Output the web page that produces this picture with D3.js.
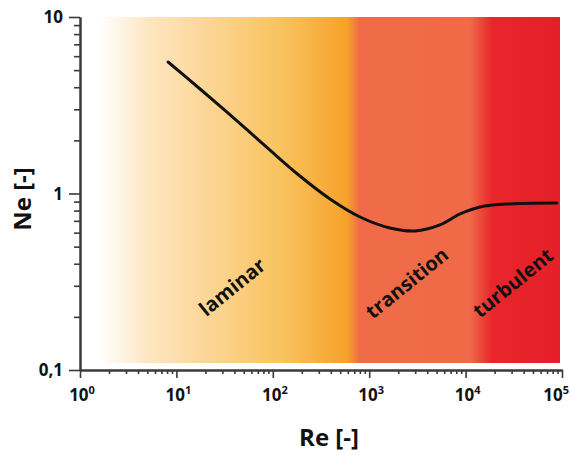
<!DOCTYPE html>
<html>
<head>
<meta charset="utf-8">
<script src="https://cdn.jsdelivr.net/npm/d3@7"></script>
<style>
  body { margin: 0; background: #fff; }
  svg { display: block; font-family: "Open Sans", "DejaVu Sans", sans-serif; }
</style>
</head>
<body>
<svg id="chart" width="570" height="455"></svg>
<script>
// curve: Reynolds number vs Newton (power) number
var reValues = [8.2, 17.6, 40.5, 93.5, 191, 392, 803, 1640, 2990, 5420, 8750, 14100, 28900, 88700];
var neValues = [5.56, 3.91, 2.64, 1.76, 1.256, 0.931, 0.736, 0.638, 0.614, 0.664, 0.766, 0.839, 0.873, 0.883];

// flow regimes (label position in data units)
var regimeNames = ["laminar", "transition", "turbulent"];
var regimeRe = [38, 2470, 31000];
var regimeNe = [0.295, 0.311, 0.311];

// background gradient stops along Re
var bandRe = [1.6, 5.3, 20, 120, 588, 800, 11100, 18800, 100000];
var bandColor = ["#ffffff", "#fde6bf", "#fcd698", "#f9c35f", "#f6a22a", "#f06b47", "#f06a48", "#e8262b", "#e51f28"];

var xTicks = [1, 10, 100, 1000, 10000, 100000];
var xExp = ["0", "1", "2", "3", "4", "5"];
var yTicks = [0.1, 1, 10];
var yTickLabels = ["0,1", "1", "10"];

var svg = d3.select("#chart");

var x = d3.scaleLog().domain([1, 1e5]).range([80, 562]);
var y = d3.scaleLog().domain([0.1, 10]).range([370, 17]);

// gradient background
var grad = svg.append("defs").append("linearGradient")
  .attr("id", "regimes")
  .attr("gradientUnits", "userSpaceOnUse")
  .attr("x1", x(bandRe[0])).attr("x2", x(bandRe[bandRe.length - 1]))
  .attr("y1", 0).attr("y2", 0);

var x0 = x(bandRe[0]), x1 = x(bandRe[bandRe.length - 1]);
grad.selectAll("stop")
  .data(bandRe)
  .enter().append("stop")
  .attr("offset", function (d) { return (x(d) - x0) / (x1 - x0); })
  .attr("stop-color", function (d, i) { return bandColor[i]; });

svg.append("rect")
  .attr("x", 82)
  .attr("y", y(10))
  .attr("width", 560 - 82)
  .attr("height", 363 - y(10))
  .attr("fill", "url(#regimes)");

// minor ticks
function minors(lo, hi) {
  var out = [];
  for (var p = lo; p < hi; p *= 10) {
    for (var k = 2; k <= 9; k++) out.push(p * k);
  }
  return out;
}

var axisColor = "#3a3a3a";

// x axis
var gx = svg.append("g").attr("transform", "translate(0," + y(0.1) + ")");
gx.call(d3.axisBottom(x).tickValues(minors(1, 1e5)).tickSize(4).tickFormat("").tickSizeOuter(0));
gx.call(function (g) {
  g.append("g").call(d3.axisBottom(x).tickValues(xTicks).tickSize(8).tickFormat("").tickSizeOuter(0));
});

// y axis
var gy = svg.append("g").attr("transform", "translate(" + x(1) + ",0)");
gy.call(d3.axisLeft(y).tickValues(minors(0.1, 10)).tickSize(6).tickFormat("").tickSizeOuter(0));
gy.call(function (g) {
  g.append("g").call(d3.axisLeft(y).tickValues(yTicks).tickSize(11).tickFormat("").tickSizeOuter(0));
});

svg.selectAll(".domain, .tick line")
  .attr("stroke", axisColor)
  .attr("stroke-width", 2);
svg.selectAll(".tick line").attr("stroke-width", 1.6);

// x tick labels with superscripts (last one pulled in so it stays on the page)
var xl = svg.append("g").selectAll("text")
  .data(xTicks)
  .enter().append("text")
  .attr("x", function (d, i) { return i === xTicks.length - 1 ? 569 : x(d) + 2; })
  .attr("y", 401)
  .attr("text-anchor", function (d, i) { return i === xTicks.length - 1 ? "end" : "middle"; })
  .style("font-size", "17px")
  .style("font-weight", "bold")
  .attr("fill", "#111");
xl.append("tspan").text("10");
xl.append("tspan")
  .attr("dy", -7)
  .style("font-size", "11px")
  .text(function (d, i) { return xExp[i]; });

// y tick labels
svg.append("g").selectAll("text")
  .data(yTicks)
  .enter().append("text")
  .attr("x", 63)
  .attr("y", function (d) { return y(d) + 6; })
  .attr("text-anchor", "end")
  .style("font-size", "17px")
  .style("font-weight", "bold")
  .attr("fill", "#111")
  .text(function (d, i) { return yTickLabels[i]; });

// axis titles
svg.append("text")
  .attr("x", 329)
  .attr("y", 446)
  .attr("text-anchor", "middle")
  .style("font-size", "24px")
  .style("font-weight", "bold")
  .attr("fill", "#111")
  .text("Re [-]");

svg.append("text")
  .attr("transform", "translate(31,199) rotate(-90)")
  .attr("text-anchor", "middle")
  .style("font-size", "24px")
  .style("font-weight", "bold")
  .attr("fill", "#111")
  .text("Ne [-]");

// the curve
var line = d3.line()
  .x(function (d) { return x(d[0]); })
  .y(function (d) { return y(d[1]); })
  .curve(d3.curveCatmullRom.alpha(0.5));

svg.append("path")
  .datum(reValues.map(function (d, i) { return [d, neValues[i]]; }))
  .attr("d", line)
  .attr("fill", "none")
  .attr("stroke", "#111")
  .attr("stroke-width", 3)
  .attr("stroke-linecap", "round");

// regime labels
svg.append("g").selectAll("text")
  .data(regimeNames)
  .enter().append("text")
  .attr("transform", function (d, i) {
    return "translate(" + x(regimeRe[i]) + "," + y(regimeNe[i]) + ") rotate(-39)";
  })
  .attr("text-anchor", "middle")
  .attr("dy", "0.35em")
  .style("font-size", "20px")
  .style("font-weight", "bold")
  .attr("fill", "#111")
  .text(function (d) { return d; });
</script>
</body>
</html>
